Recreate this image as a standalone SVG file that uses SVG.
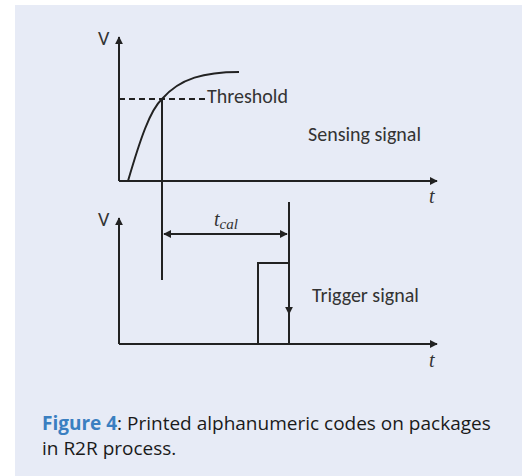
<svg xmlns="http://www.w3.org/2000/svg" width="527" height="476" viewBox="0 0 527 476">
<defs>
<style>
.ax{stroke:#222;stroke-width:2;fill:none}
.ln{stroke:#222;stroke-width:2;fill:none}
.lbl{font-family:Calibri,Carlito,"Open Sans","Liberation Sans",sans-serif;font-size:20px;fill:#333}
.it{font-family:"Liberation Serif","DejaVu Serif",serif;font-style:italic;fill:#333}
.cap{font-family:"Open Sans","Liberation Sans",sans-serif;font-size:19px;fill:#1a1a1a}
</style>
<marker id="ah" viewBox="0 0 10 10" refX="9" refY="5" markerWidth="4" markerHeight="4" orient="auto-start-reverse">
<path d="M0,0 L10,5 L0,10 z" fill="#222"/>
</marker>
</defs>
<rect x="15" y="5" width="507" height="471" fill="#e7ebf6"/>
<g id="connectors">
<path class="ax" d="M119,181 V37" marker-end="url(#ah)"/>
<path class="ax" d="M119,181 H437" marker-end="url(#ah)"/>
<path class="ax" d="M119,344 V218" marker-end="url(#ah)"/>
<path class="ax" d="M119,344 H437" marker-end="url(#ah)"/>
<path class="ln" d="M128,181 C140,140 150,110 162,99 C180,78 205,72 239,72"/>
<path class="ln" d="M119,99 H205" stroke-dasharray="6,4"/>
<path class="ln" d="M162,99 V280"/>
<path class="ln" d="M289,202 V344"/>
<path class="ln" d="M289,300 V314" marker-end="url(#ah)"/>
<path class="ln" d="M258,344 V263 H289"/>
<path class="ln" d="M164,234 H287" marker-start="url(#ah)" marker-end="url(#ah)"/>
</g>
<g id="labels">
<text class="lbl" x="98" y="45">V</text>
<text class="lbl" x="98" y="226">V</text>
<text class="lbl" x="207" y="103">Threshold</text>
<text class="lbl" x="308" y="141">Sensing signal</text>
<text class="lbl" x="312" y="302">Trigger signal</text>
<text class="it" x="429" y="203" font-size="20">t</text>
<text class="it" x="429" y="367" font-size="20">t</text>
<text class="it" x="214" y="226" font-size="20">t<tspan font-size="15" dy="3">cal</tspan></text>
</g>
<g id="caption">
<text class="cap" x="42" y="430"><tspan fill="#3a7fc1" font-weight="bold">Figure 4</tspan>: Printed alphanumeric codes on packages</text>
<text class="cap" x="42" y="455">in R2R process.</text>
</g>
</svg>
